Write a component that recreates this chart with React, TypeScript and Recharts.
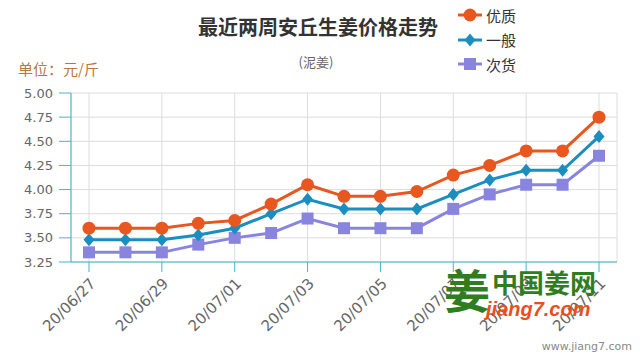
import React from 'react'
import {
  LineChart,
  Line,
  XAxis,
  YAxis,
  CartesianGrid,
} from 'recharts'

const dates = [
  '20/06/27', '20/06/28', '20/06/29', '20/06/30', '20/07/01',
  '20/07/02', '20/07/03', '20/07/04', '20/07/05', '20/07/06',
  '20/07/07', '20/07/08', '20/07/09', '20/07/10', '20/07/11',
]
const premium = [3.6, 3.6, 3.6, 3.65, 3.68, 3.85, 4.05, 3.93, 3.93, 3.98, 4.15, 4.25, 4.4, 4.4, 4.75]
const normal = [3.48, 3.48, 3.48, 3.53, 3.6, 3.75, 3.9, 3.8, 3.8, 3.8, 3.95, 4.1, 4.2, 4.2, 4.55]
const inferior = [3.35, 3.35, 3.35, 3.43, 3.5, 3.55, 3.7, 3.6, 3.6, 3.6, 3.8, 3.95, 4.05, 4.05, 4.35]
const yTicks = [3.25, 3.5, 3.75, 4.0, 4.25, 4.5, 4.75, 5.0]

const FONT = '"Noto Sans CJK SC", "Noto Sans", sans-serif'
const TICK_FONT = '"DejaVu Sans", sans-serif'
const ORANGE = '#e8571f'
const BLUE = '#1b8ec0'
const PURPLE = '#8985df'
const AXIS = '#45b3cc'

const data = dates.map((d, i) => ({
  date: d,
  premium: premium[i],
  normal: normal[i],
  inferior: inferior[i],
}))

type Shape = 'circle' | 'diamond' | 'square'

function marker(shape: Shape, color: string, cx: number, cy: number, key?: string) {
  if (shape === 'circle') return <circle key={key} cx={cx} cy={cy} r={6.5} fill={color} />
  if (shape === 'diamond')
    return (
      <path
        key={key}
        d={`M${cx},${cy - 6.5}L${cx + 5.5},${cy}L${cx},${cy + 6.5}L${cx - 5.5},${cy}Z`}
        fill={color}
      />
    )
  return <rect key={key} x={cx - 6} y={cy - 6} width={12} height={12} fill={color} />
}

const makeDot = (shape: Shape, color: string) => (props: any) =>
  marker(shape, color, props.cx, props.cy, `${shape}-${props.index}`)

const series = [
  { key: 'premium', name: '优质', color: ORANGE, shape: 'circle' as Shape },
  { key: 'normal', name: '一般', color: BLUE, shape: 'diamond' as Shape },
  { key: 'inferior', name: '次货', color: PURPLE, shape: 'square' as Shape },
]

function LegendBox() {
  return (
    <div style={{ position: 'absolute', left: 457, top: 3, fontFamily: FONT, fontSize: 15, color: '#333' }}>
      {series.map((s) => (
        <div key={s.key} style={{ display: 'flex', alignItems: 'center', height: 24.5 }}>
          <svg width={26} height={16}>
            <line x1={1} y1={8} x2={25} y2={8} stroke={s.color} strokeWidth={3} />
            {marker(s.shape, s.color, 13, 8)}
          </svg>
          <span style={{ marginLeft: 3 }}>{s.name}</span>
        </div>
      ))}
    </div>
  )
}

export default function App() {
  return (
    <div style={{ position: 'fixed', left: 0, top: 0, width: 640, height: 360, background: '#fff', fontFamily: FONT }}>
      <LineChart width={640} height={360} data={data} margin={{ top: 93, right: 23, bottom: 0, left: 0 }}>
        <CartesianGrid stroke="#dcdcdc" strokeWidth={1} />
        <XAxis
          dataKey="date"
          interval={1}
          padding={{ left: 18, right: 18 }}
          height={98}
          stroke={AXIS}
          tickSize={10}
          tickMargin={5}
          tick={{ fill: '#666', fontSize: 15, fontFamily: TICK_FONT }}
          angle={-45}
          textAnchor="end"
        />
        <YAxis
          domain={[3.25, 5]}
          ticks={yTicks}
          interval={0}
          width={71}
          stroke={AXIS}
          tickSize={12}
          tickMargin={6}
          tickFormatter={(v: number) => v.toFixed(2)}
          tick={{ fill: '#666', fontSize: 13, fontFamily: TICK_FONT }}
        />
        {series
          .slice()
          .reverse()
          .map((s) => (
            <Line
              key={s.key}
              dataKey={s.key}
              name={s.name}
              stroke={s.color}
              strokeWidth={3}
              dot={makeDot(s.shape, s.color)}
              activeDot={false}
              isAnimationActive={false}
            />
          ))}
      </LineChart>
      <LegendBox />
      <div style={{ position: 'absolute', left: 0, width: 636, top: 12, textAlign: 'center', fontSize: 20, fontWeight: 'bold', color: '#333' }}>
        最近两周安丘生姜价格走势
      </div>
      <div style={{ position: 'absolute', left: 0, width: 632, top: 52, textAlign: 'center', fontSize: 13, color: '#666' }}>
        (泥姜)
      </div>
      <div style={{ position: 'absolute', left: 18, top: 58, fontSize: 15, color: '#b5783f' }}>
        单位：元/斤
      </div>
      <div style={{ position: 'absolute', left: 444, top: 258, fontSize: 46, fontWeight: 'bold', color: '#2f7d1f', lineHeight: '60px' }}>
        姜
      </div>
      <div style={{ position: 'absolute', left: 492, top: 268, fontSize: 26, fontWeight: 'bold', color: '#2f7d1f', lineHeight: '28px' }}>
        中国姜网
      </div>
      <div style={{ position: 'absolute', left: 486, top: 297, fontSize: 20, fontWeight: 'bold', fontStyle: 'italic', color: '#ec4e1a', fontFamily: 'Arial, "Liberation Sans", sans-serif', lineHeight: '24px' }}>
        jiang7.com
      </div>
      <div style={{ position: 'absolute', right: 8, top: 340, fontSize: 11, color: '#888', fontFamily: TICK_FONT }}>
        www.jiang7.com
      </div>
    </div>
  )
}
